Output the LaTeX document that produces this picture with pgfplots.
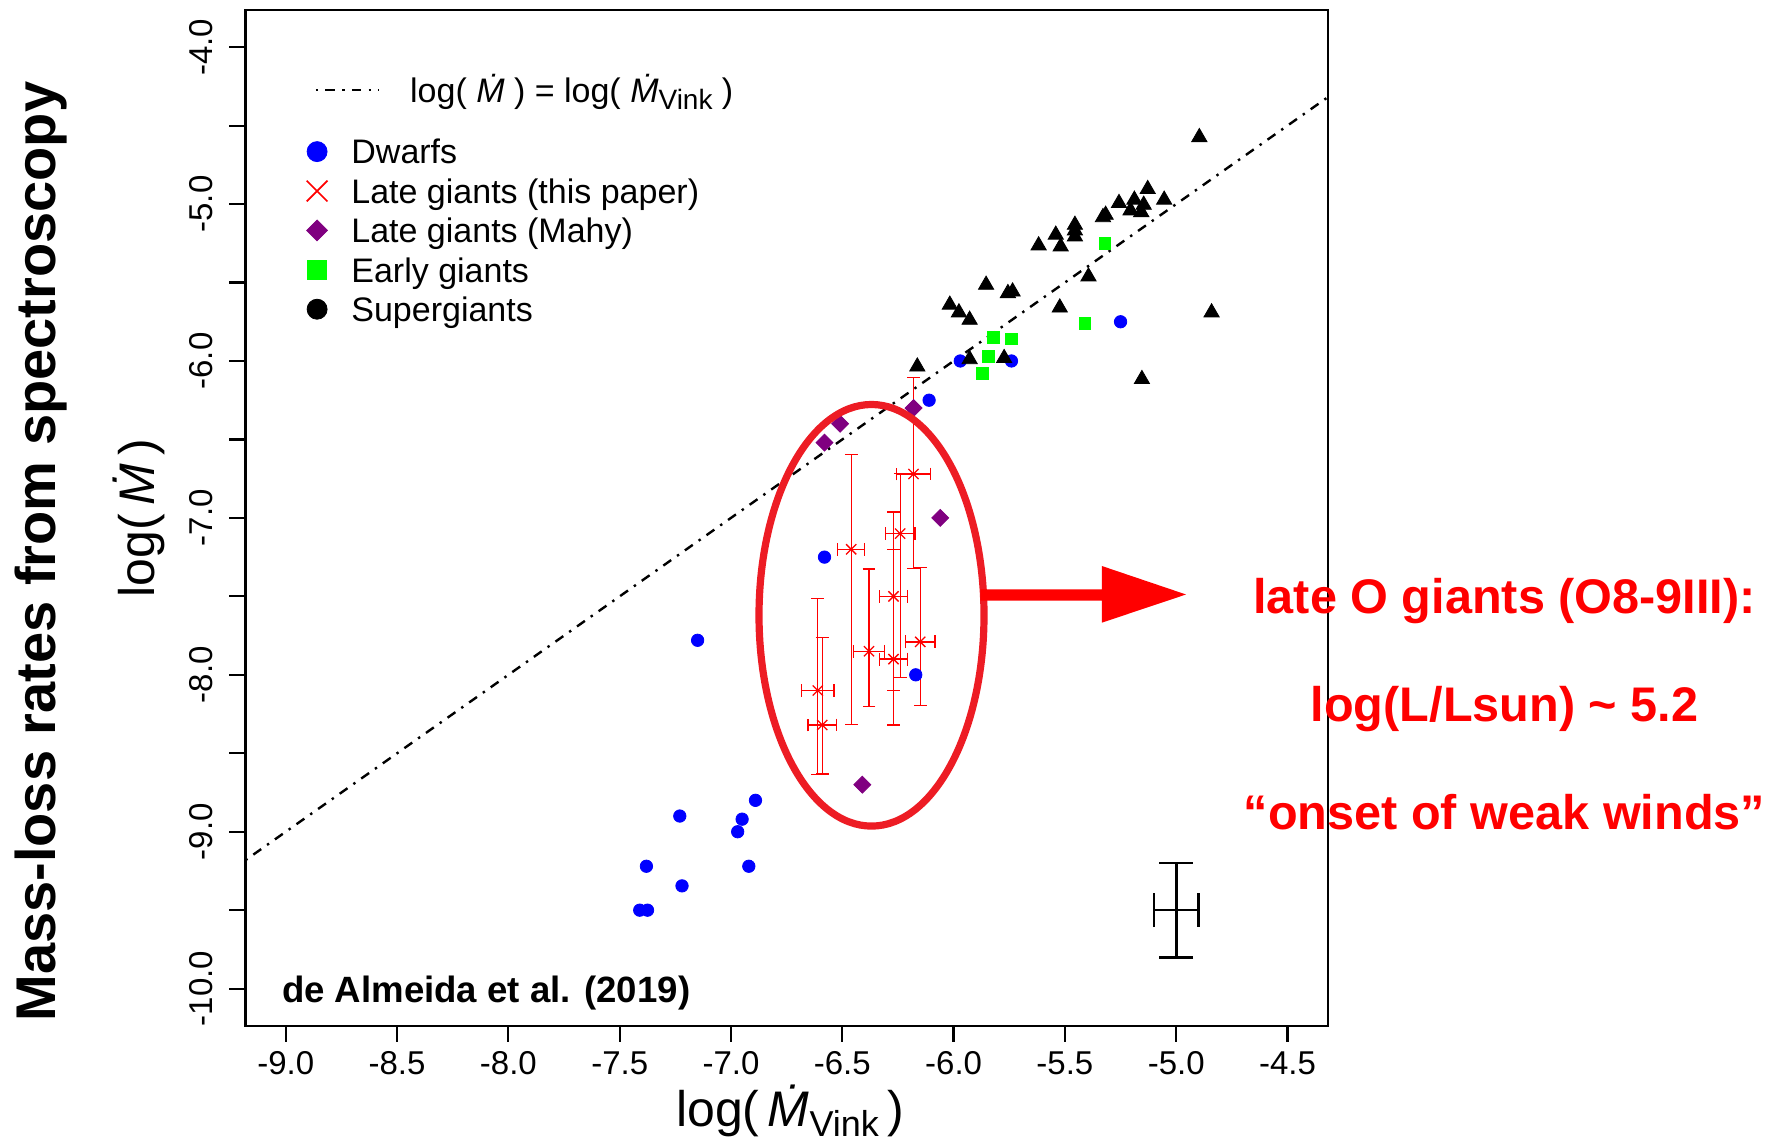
\documentclass[border=0pt]{standalone}
\usepackage{fontspec}
\setmainfont{Liberation Sans}
\usepackage{pgfplots}
\usepackage{pgfplotstable}
\pgfplotsset{compat=1.18}

\definecolor{dwarfblue}{RGB}{0,0,255}
\definecolor{mahypurple}{RGB}{128,0,128}
\definecolor{giantgreen}{RGB}{0,255,0}
\definecolor{ringred}{RGB}{237,28,36}
\definecolor{notered}{RGB}{255,0,0}

\newcommand{\Mdot}{\textit{\.{M}}}
\newcommand{\vink}[2]{\raisebox{#2}{\fontsize{#1}{#1}\selectfont Vink}}

% dwarfs
\pgfplotstableread{
x y
-7.410 -9.500
-7.375 -9.500
-7.380 -9.220
-7.220 -9.345
-7.230 -8.900
-6.920 -9.220
-6.970 -9.000
-6.950 -8.920
-6.890 -8.800
-7.150 -7.780
-6.580 -7.250
-6.170 -8.000
-6.110 -6.250
-5.970 -6.000
-5.740 -6.000
-5.250 -5.750
}\dwarfs

% late giants (this paper), asymmetric errors in log Mdot
\pgfplotstableread{
x y ex eyp eym
-6.18 -6.72 0.077 0.617 0.601
-6.24 -7.10 0.066 0.385 0.918
-6.46 -7.20 0.061 0.605 1.115
-6.27 -7.50 0.064 0.537 0.599
-6.15 -7.79 0.066 0.472 0.406
-6.38 -7.85 0.070 0.525 0.353
-6.27 -7.90 0.064 0.699 0.420
-6.61 -8.10 0.073 0.588 0.536
-6.59 -8.32 0.064 0.559 0.313
}\lategiants

% late giants (Mahy)
\pgfplotstableread{
x y
-6.18 -6.30
-6.51 -6.40
-6.58 -6.52
-6.06 -7.00
-6.41 -8.70
}\mahy

% early giants
\pgfplotstableread{
x y
-5.320 -5.250
-5.410 -5.760
-5.820 -5.850
-5.740 -5.860
-5.845 -5.970
-5.870 -6.080
}\earlygiants

% supergiants
\pgfplotstableread{
x y
-4.896 -4.574
-5.128 -4.905
-5.257 -4.994
-5.188 -4.973
-5.146 -5.005
-5.205 -5.041
-5.157 -5.052
-5.054 -4.973
-5.317 -5.069
-5.329 -5.084
-5.455 -5.133
-5.455 -5.169
-5.455 -5.207
-5.541 -5.196
-5.519 -5.271
-5.618 -5.264
-5.394 -5.462
-5.854 -5.515
-5.756 -5.568
-5.735 -5.558
-6.017 -5.642
-5.976 -5.691
-5.928 -5.738
-5.523 -5.660
-4.841 -5.691
-5.928 -5.989
-5.773 -5.982
-6.163 -6.036
-5.154 -6.116
}\supergiants

\begin{document}
\begin{tikzpicture}
\path[use as bounding box] (0pt,0pt) rectangle (882.5pt,571.5pt);
\pgfplotsset{panel/.style={
  at={(122.75pt,58.5pt)}, anchor=south west,
  scale only axis, width=541.25pt, height=508pt,
  xmin=-9.181, xmax=-4.318, ymin=-10.238, ymax=-3.763}}

% legend entry for the one-to-one relation
\begin{axis}[panel, hide axis,
  legend cell align=left,
  legend style={draw=none, fill=none, at={(rel axis cs:0.0638,0.9213)}, anchor=west,
    inner sep=0pt, outer sep=0pt, column sep=15pt,
    font=\fontsize{17pt}{20pt}\selectfont,
    nodes={inner sep=0pt, text height=14.95pt, text depth=2.75pt}}]
\addlegendimage{legend image code/.code={\draw[black, line width=1.2pt, dash pattern=on 1.2pt off 3.6pt on 4.8pt off 3.6pt] (0pt,0pt) -- (31.6pt,0pt);}}
\addlegendentry{log(\;\Mdot\;) = log(\;\Mdot\vink{14pt}{-3.5pt}\;)}
\end{axis}

\begin{axis}[panel,
  axis line style={line width=1.1pt},
  tick align=outside, tick pos=left,
  tick style={line width=1.1pt, black},
  major tick length=8pt, minor tick length=8pt,
  xtick={-9,-8.5,-8,-7.5,-7,-6.5,-6,-5.5,-5,-4.5},
  xticklabels={-9.0,-8.5,-8.0,-7.5,-7.0,-6.5,-6.0,-5.5,-5.0,-4.5},
  ytick={-10,-9,-8,-7,-6,-5,-4},
  yticklabels={-10.0,-9.0,-8.0,-7.0,-6.0,-5.0,-4.0},
  minor ytick={-9.5,-8.5,-7.5,-6.5,-5.5,-4.5},
  ticklabel style={font=\fontsize{16.5pt}{19pt}\selectfont, inner sep=0pt},
  xticklabel style={anchor=base},
  yticklabel style={rotate=90, anchor=base},
  xticklabel shift=16.2pt,
  yticklabel shift=8.5pt,
  legend cell align=left,
  legend style={draw=none, fill=none, at={(rel axis cs:0.0558,0.878)}, anchor=north west,
    inner sep=0pt, outer sep=0pt, row sep=2pt, column sep=11.55pt,
    font=\fontsize{17pt}{20pt}\selectfont,
    nodes={inner sep=0pt, text height=14.95pt, text depth=2.75pt}},
]
% one-to-one relation
\addplot[forget plot, black, line width=1.2pt, dash pattern=on 1.2pt off 3.6pt on 4.8pt off 3.6pt]
  coordinates {(-9.181,-9.181) (-4.318,-4.318)};

\addplot[only marks, mark=*, mark size=3.1pt, color=dwarfblue,
  legend image code/.code={\fill[dwarfblue] (0pt,0pt) circle (5pt);}]
  table[x=x, y=y] {\dwarfs};
\addlegendentry{Dwarfs}

\addplot[only marks, mark=x, mark size=3.6pt, color=notered, line width=0.65pt,
  legend image code/.code={\draw[notered, line width=0.8pt] (-5.2pt,-5.2pt) -- (5.2pt,5.2pt) (-5.2pt,5.2pt) -- (5.2pt,-5.2pt);},
  error bars/.cd, x dir=both, x explicit, y dir=both, y explicit,
  error bar style={notered, line width=0.65pt},
  error mark options={rotate=90, notered, mark size=3.2pt, line width=0.65pt}]
  table[x=x, y=y, x error=ex, y error plus=eyp, y error minus=eym] {\lategiants};
\addlegendentry{Late giants (this paper)}
% upright spokes completing the asterisks
\addplot[forget plot, only marks, mark=+, mark size=2.6pt, color=notered, line width=0.65pt]
  table[x=x, y=y] {\lategiants};

\addplot[only marks, mark=square*, mark size=3.0pt, color=mahypurple, mark options={rotate=45},
  legend image code/.code={\fill[mahypurple] (0pt,5.2pt) -- (5.2pt,0pt) -- (0pt,-5.2pt) -- (-5.2pt,0pt) -- cycle;}]
  table[x=x, y=y] {\mahy};
\addlegendentry{Late giants (Mahy)}

\addplot[only marks, mark=square*, mark size=2.9pt, color=giantgreen,
  legend image code/.code={\fill[giantgreen] (-4.7pt,-4.7pt) rectangle (4.7pt,4.7pt);}]
  table[x=x, y=y] {\earlygiants};
\addlegendentry{Early giants}

\addplot[only marks, mark=triangle*, mark size=4.4pt, color=black,
  legend image code/.code={\fill[black] (0pt,0pt) circle (5pt);}]
  table[x=x, y=y] {\supergiants};
\addlegendentry{Supergiants}

% typical uncertainty
\addplot[forget plot, draw=none, mark=none,
  error bars/.cd, x dir=both, x explicit, y dir=both, y explicit,
  error bar style={draw=black, line width=1.3pt},
  error mark options={rotate=90, draw=black, mark size=8.5pt, line width=1.3pt}]
  coordinates {(-5.0,-9.5) +- (0.1,0.3)};
\end{axis}

% axis titles
\node[anchor=base, font=\fontsize{25pt}{30pt}\selectfont] at (395pt,8pt)
  {log(\,\Mdot\vink{18pt}{-5pt}\,)};
\node[anchor=base, rotate=90, font=\fontsize{25pt}{30pt}\selectfont] at (77pt,312.5pt)
  {log(\,\Mdot\,)};
\node[anchor=base, rotate=90, font=\fontsize{28pt}{34pt}\selectfont\bfseries] at (27.5pt,295.7pt)
  {Mass-loss rates from spectroscopy};

% reference
\node[anchor=base west, font=\fontsize{18.3pt}{22pt}\selectfont\bfseries] at (137.5pt,70.2pt)
  {de Almeida et al. (2019)};

% highlighted group and arrow
\draw[ringred, line width=3.6pt] (435.75pt,263.85pt) ellipse [x radius=56.25pt, y radius=105.4pt];
\fill[notered] (490.2pt,276.85pt) -- (550.9pt,276.85pt) -- (550.9pt,288.5pt) -- (593pt,274.25pt)
  -- (550.9pt,260.15pt) -- (550.9pt,271.15pt) -- (490.2pt,271.15pt) -- cycle;

\begin{scope}[every node/.style={anchor=base, text=notered, font=\fontsize{24.3pt}{29pt}\selectfont\bfseries}]
\node at (752.25pt,264.5pt) {late O giants (O8-9III):};
\node at (752.25pt,210.65pt) {log(L/Lsun) \textasciitilde{} 5.2};
\node at (752.25pt,156.85pt) {“onset of weak winds”};
\end{scope}
\end{tikzpicture}
\end{document}
